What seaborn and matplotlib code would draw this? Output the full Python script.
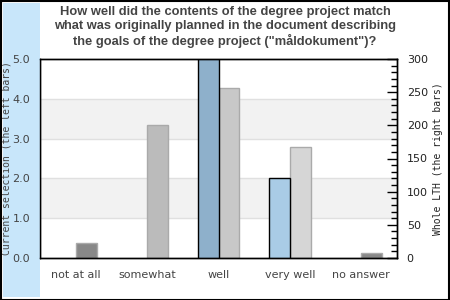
import matplotlib
matplotlib.use("Agg")
import matplotlib.pyplot as plt
import seaborn as sns
import pandas as pd
import numpy as np
from matplotlib.patches import Rectangle

categories = ["not at all", "somewhat", "well", "very well", "no answer"]
current_sel = [0, 0, 5, 2, 0]
whole_lth = [22, 200, 256, 167, 8]
left_colors = ["#8eb0cb", "#8eb0cb", "#8eb0cb", "#a9cce6", "#8eb0cb"]
right_colors = ["#888888", "#bbbbbb", "#c8c8c8", "#d6d6d6", "#888888"]
left_ticks = [0, 1, 2, 3, 4, 5]
right_ticks = [0, 50, 100, 150, 200, 250, 300]

title = ('How well did the contents of the degree project match\n'
         'what was originally planned in the document describing\n'
         'the goals of the degree project ("måldokument")?')

sns.set_theme(style="white")
plt.rcParams['font.family'] = ['DejaVu Sans']

fig = plt.figure(figsize=(4.5, 3), dpi=100)
fig.patch.set_facecolor("white")
fig.patches.append(Rectangle((3/450, 3/300), 37/450, 294/300, transform=fig.transFigure,
                             facecolor="#c8e6fa", edgecolor="none", zorder=0))
fig.patches.append(Rectangle((0.5/450, 0.5/300), 448.5/450, 298.5/300, transform=fig.transFigure,
                             facecolor="none", edgecolor="black", linewidth=1.5, zorder=5))

ax = fig.add_axes([40/450, 42/300, 357/450, 199/300])
ax2 = ax.twinx()

w = 0.294
idx = np.arange(len(categories))
df_left = pd.DataFrame({"x": idx - w/2, "y": current_sel, "c": categories})
df_right = pd.DataFrame({"x": idx + w/2, "y": whole_lth, "c": categories})

ax.set_ylim(0, 5)
ax2.set_ylim(0, 300)
for lo, hi in [(1, 2), (3, 4)]:
    ax2.axhspan(lo / 5 * 300, hi / 5 * 300, color="#f2f2f2", zorder=0, lw=0)
for v in [1, 2, 3, 4]:
    ax2.axhline(v / 5 * 300, color="#e0e0e0", lw=1, zorder=0.5)

sns.barplot(data=df_right, x="x", y="y", hue="c", palette=right_colors, native_scale=True,
            width=w, ax=ax2, legend=False, edgecolor="#aaaaaa", linewidth=1, dodge=False,
            saturation=1)
sns.barplot(data=df_left, x="x", y="y", hue="c", palette=left_colors, native_scale=True,
            width=w, ax=ax, legend=False, edgecolor="black", linewidth=1, dodge=False,
            saturation=1)
for p, v in zip(ax.patches[len(ax.patches)-len(current_sel):], current_sel):
    if v == 0:
        p.set_visible(False)

ax2.set_zorder(0)
ax.set_zorder(1)
ax.patch.set_visible(False)
ax2.patch.set_visible(True)
ax2.patch.set_facecolor("white")

ax.set_xlim(-0.5, 4.5)
ax.set_ylim(0, 5)
ax2.set_ylim(0, 300)
ax.set_xticks(idx)
ax.set_xticklabels(categories, fontsize=8, color="#444444")
ax.set_yticks(left_ticks)
ax.set_yticklabels([f"{t:.1f}" for t in left_ticks], fontsize=8, color="#444444")
ax2.set_yticks(right_ticks)
ax2.set_yticklabels([str(t) for t in right_ticks], fontsize=8, color="#222222")
ax2.set_yticks(np.arange(0, 301, 10), minor=True)
ax.tick_params(axis="x", length=0, pad=9)
ax.tick_params(axis="y", length=0, pad=7)
ax2.tick_params(axis="y", which="major", direction="in", length=7, width=1, color="black", pad=7)
ax2.tick_params(axis="y", which="minor", direction="in", length=4, width=1, color="black")
ax.set_xlabel("")
ax.set_ylabel("Current selection (the left bars)", fontsize=7, family="DejaVu Sans Mono",
              color="#444444")
ax2.set_ylabel("Whole LTH (the right bars)", fontsize=7, family="DejaVu Sans Mono",
               color="#222222", labelpad=4)
ax.yaxis.set_label_coords(-28/357, 0.5)
for a in (ax, ax2):
    for s in a.spines.values():
        s.set_color("black")
        s.set_linewidth(1)
ax2.grid(False)
ax.grid(False)

fig.text(0.5, 1 - 27/300, title, ha="center", va="center", fontsize=9.3,
         fontweight="bold", color="#444444", family="Liberation Sans", linespacing=1.2)

fig.savefig("out.png", dpi=100)
